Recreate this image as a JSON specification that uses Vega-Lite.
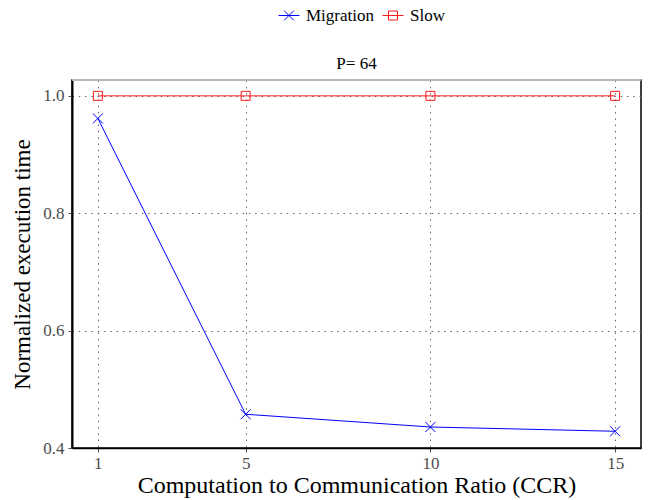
{
  "$schema": "https://vega.github.io/schema/vega-lite/v6.json",
  "autosize": "none",
  "width": 569,
  "height": 368,
  "padding": {"left": 72, "top": 80, "right": 11, "bottom": 52},
  "background": "white",
  "title": {"text": "P= 64", "font": "Liberation Serif", "fontSize": 17, "fontWeight": "normal", "color": "black", "baseline": "bottom", "offset": 10, "dy": 95.5, "anchor": "middle"},
  "config": {
    "font": "Liberation Serif",
    "view": {"stroke": "black", "strokeWidth": 1.5},
    "title": {"font": "Liberation Serif"},
    "axis": {"labelFont": "Liberation Serif", "titleFont": "Liberation Serif", "titleFontWeight": "normal", "titleColor": "black"},
    "legend": {"orient": "none", "legendX": 206, "legendY": -75.5, "direction": "horizontal", "symbolSize": 441, "symbolStrokeWidth": 1, "symbolOpacity": 1, "labelFont": "Liberation Serif", "labelFontSize": 17, "labelColor": "black", "labelOffset": 6, "columnPadding": 6}
  },
  "data": {
    "values": [
      {"CCR": 1, "value": 0.9615, "series": "Migration"},
      {"CCR": 5, "value": 0.4575, "series": "Migration"},
      {"CCR": 10, "value": 0.4358, "series": "Migration"},
      {"CCR": 15, "value": 0.4285, "series": "Migration"},
      {"CCR": 1, "value": 1.0, "series": "Slow"},
      {"CCR": 5, "value": 1.0, "series": "Slow"},
      {"CCR": 10, "value": 1.0, "series": "Slow"},
      {"CCR": 15, "value": 1.0, "series": "Slow"}
    ]
  },
  "layer": [
    {
      "mark": {"type": "line", "strokeWidth": 1},
      "encoding": {
        "x": {"field": "CCR", "type": "quantitative", "scale": {"domain": [0.3, 15.7], "nice": false, "zero": false},
          "axis": {"title": "Computation to Communication Ratio (CCR)", "values": [1, 5, 10, 15], "grid": true, "gridDash": [1.5, 4.8], "gridColor": "#666666", "gridWidth": 1, "domainColor": "black", "domainWidth": 1.5, "tickColor": "#555555", "tickSize": 4, "labelFontSize": 17, "labelColor": "#4d4d4d", "labelPadding": 3, "titleFontSize": 24, "titlePadding": 2}},
        "y": {"field": "value", "type": "quantitative", "scale": {"domain": [0.4, 1.027], "nice": false, "zero": false},
          "axis": {"title": "Normalized execution time", "values": [0.4, 0.6, 0.8, 1.0], "format": ".1f", "grid": true, "gridDash": [1.5, 4.8], "gridColor": "#666666", "gridWidth": 1, "domainColor": "black", "domainWidth": 2, "tickColor": "#555555", "tickSize": 4, "labelFontSize": 17, "labelColor": "#4d4d4d", "labelPadding": 4, "titleFontSize": 23, "titlePadding": 8}},
        "color": {"field": "series", "type": "nominal", "title": null, "scale": {"domain": ["Migration", "Slow"], "range": ["#0000ff", "#ff1a1a"]},
          "legend": {"labelFont": "Liberation Serif", "labelFontSize": 17, "labelColor": "black"}}
      }
    },
    {
      "transform": [{"filter": "datum.series === 'Migration'"}],
      "mark": {"type": "point", "filled": false, "size": 100, "strokeWidth": 1, "opacity": 1, "color": "#0000ff", "shape": "M-1,-1L1,1M-1,1L1,-1"},
      "encoding": {
        "x": {"field": "CCR", "type": "quantitative"},
        "y": {"field": "value", "type": "quantitative"}
      }
    },
    {
      "transform": [{"filter": "datum.series === 'Slow'"}],
      "mark": {"type": "point", "filled": false, "size": 100, "strokeWidth": 1, "opacity": 1, "color": "#ff1a1a", "shape": "M-0.9,-0.9L0.9,-0.9L0.9,0.9L-0.9,0.9Z"},
      "encoding": {
        "x": {"field": "CCR", "type": "quantitative"},
        "y": {"field": "value", "type": "quantitative"}
      }
    },
    {
      "mark": {"type": "point", "filled": false, "size": 441, "strokeWidth": 1, "opacity": 0},
      "encoding": {
        "x": {"field": "CCR", "type": "quantitative"},
        "y": {"field": "value", "type": "quantitative"},
        "color": {"field": "series", "type": "nominal", "title": null,
          "legend": {"labelFont": "Liberation Serif", "labelFontSize": 17, "labelColor": "black"}},
        "shape": {"field": "series", "type": "nominal", "title": null,
          "scale": {"domain": ["Migration", "Slow"], "range": ["M-1,0L1,0M-0.46,-0.46L0.46,0.46M-0.46,0.46L0.46,-0.46", "M-1,0L1,0M-0.43,-0.43L0.43,-0.43L0.43,0.43L-0.43,0.43Z"]},
          "legend": {"labelFont": "Liberation Serif", "labelFontSize": 17, "labelColor": "black"}}
      }
    },
    {
      "data": {"values": [{"edge": "top"}]},
      "mark": {"type": "rule", "color": "#e0e0e0", "strokeWidth": 1.5},
      "encoding": {"y": {"datum": 1.027}}
    }
  ]
}
